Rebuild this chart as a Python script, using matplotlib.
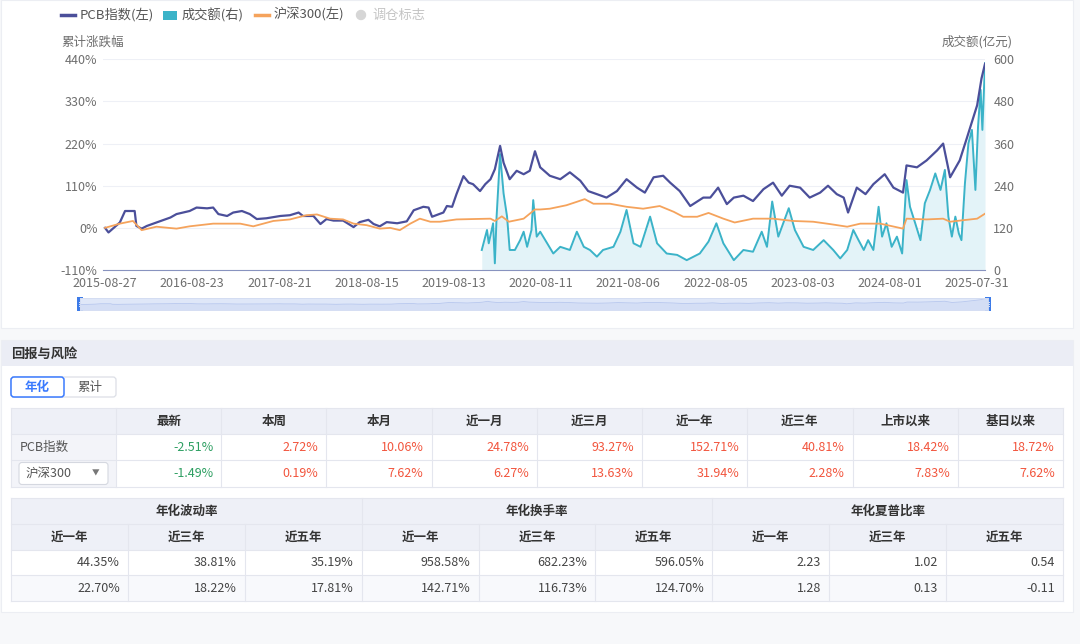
import matplotlib.pyplot as plt
import numpy as np
from matplotlib.patches import Rectangle, FancyBboxPatch, Circle
from matplotlib.lines import Line2D
from matplotlib.ticker import FuncFormatter

plt.rcParams['font.family'] = ['Noto Sans CJK SC', 'DejaVu Sans']

#### data (x = years since 2015-08-27, one tick label per year)
xlabels = ['2015-08-27', '2016-08-23', '2017-08-21', '2018-08-15', '2019-08-13',
           '2020-08-11', '2021-08-06', '2022-08-05', '2023-08-03', '2024-08-01',
           '2025-07-31']

pcb_t = [0.00, 0.04, 0.10, 0.17, 0.23, 0.34, 0.36, 0.42, 0.48, 0.59,
         0.75, 0.82, 0.97, 1.05, 1.17, 1.24, 1.30, 1.40, 1.47, 1.57,
         1.66, 1.74, 1.85, 2.01, 2.12, 2.22, 2.27, 2.39, 2.47, 2.54,
         2.62, 2.73, 2.85, 2.92, 3.02, 3.08, 3.15, 3.23, 3.35, 3.46,
         3.54, 3.65, 3.71, 3.75, 3.82, 3.88, 3.92, 3.98, 4.03, 4.11,
         4.17, 4.22, 4.30, 4.36, 4.42, 4.47, 4.53, 4.57, 4.64, 4.72,
         4.80, 4.87, 4.93, 4.99, 5.10, 5.22, 5.33, 5.45, 5.54, 5.64,
         5.75, 5.87, 5.98, 6.10, 6.19, 6.29, 6.40, 6.48, 6.59, 6.71,
         6.86, 6.94, 7.03, 7.13, 7.21, 7.32, 7.43, 7.55, 7.66, 7.76,
         7.85, 7.97, 8.08, 8.20, 8.29, 8.39, 8.47, 8.52, 8.62, 8.72,
         8.81, 8.94, 9.04, 9.15, 9.19, 9.31, 9.42, 9.54, 9.61, 9.69,
         9.80, 9.88, 10.00, 10.05, 10.09]
pcb_v = [0, -12, 0, 14, 44, 44, 5, -2, 5, 14,
         27, 36, 44, 53, 51, 53, 36, 31, 40, 44,
         36, 23, 25, 31, 33, 40, 31, 31, 10, 23,
         19, 19, 2, 15, 21, 10, 4, 15, 12, 17,
         46, 55, 53, 29, 35, 40, 57, 55, 88, 135,
         118, 114, 96, 114, 127, 153, 214, 170, 127, 149,
         140, 149, 200, 158, 136, 127, 145, 123, 96, 88,
         79, 96, 127, 105, 92, 132, 136, 118, 96, 57,
         79, 79, 105, 62, 79, 84, 70, 101, 118, 84,
         110, 105, 79, 92, 110, 88, 79, 40, 105, 88,
         114, 140, 105, 92, 163, 158, 176, 202, 220, 132,
         176, 233, 320, 390, 428]

hs_t = [0.00, 0.17, 0.32, 0.42, 0.59, 0.82, 0.97, 1.24, 1.55, 1.70,
        1.93, 2.12, 2.31, 2.43, 2.58, 2.73, 2.85, 3.00, 3.15, 3.27,
        3.38, 3.50, 3.61, 3.73, 3.84, 4.03, 4.22, 4.42, 4.47, 4.55,
        4.63, 4.80, 4.93, 4.99, 5.10, 5.29, 5.41, 5.50, 5.60, 5.79,
        5.98, 6.17, 6.36, 6.52, 6.63, 6.79, 6.92, 7.09, 7.22, 7.43,
        7.66, 7.89, 8.12, 8.31, 8.51, 8.66, 8.89, 9.15, 9.19, 9.42,
        9.61, 9.69, 9.84, 10.00, 10.09]
hs_v = [0, 11, 18, -6, 3, -2, 4, 11, 11, 4,
        18, 22, 33, 35, 24, 22, 11, 7, -2, 0,
        -6, 11, 24, 16, 16, 22, 23, 24, 18, 30,
        16, 24, 48, 48, 50, 59, 68, 75, 63, 63,
        55, 50, 57, 42, 29, 29, 39, 24, 14, 24,
        24, 18, 16, 10, 3, 11, 11, -2, 24, 22,
        24, 16, 20, 24, 37]

vol_t = [4.32, 4.38, 4.40, 4.45, 4.47, 4.49, 4.53, 4.57, 4.61, 4.64,
         4.70, 4.76, 4.80, 4.84, 4.89, 4.91, 4.95, 4.99, 5.07, 5.14,
         5.22, 5.33, 5.41, 5.49, 5.56, 5.64, 5.71, 5.83, 5.91, 5.98,
         6.06, 6.14, 6.25, 6.33, 6.44, 6.56, 6.67, 6.82, 6.92, 7.01,
         7.09, 7.21, 7.32, 7.43, 7.53, 7.59, 7.65, 7.72, 7.84, 7.91,
         8.01, 8.12, 8.24, 8.35, 8.43, 8.51, 8.58, 8.64, 8.70, 8.75,
         8.81, 8.87, 8.91, 8.96, 9.02, 9.08, 9.14, 9.19, 9.23, 9.29,
         9.35, 9.40, 9.46, 9.52, 9.58, 9.63, 9.67, 9.71, 9.75, 9.79,
         9.82, 9.86, 9.90, 9.94, 9.98, 10.01, 10.04, 10.06, 10.09]
vol_v = [57, 114, 76, 133, 19, 152, 330, 218, 152, 57,
         57, 85, 109, 66, 114, 199, 95, 109, 76, 47,
         66, 57, 109, 66, 57, 38, 57, 66, 109, 171,
         76, 66, 152, 76, 47, 43, 28, 47, 81, 133,
         76, 28, 57, 52, 109, 66, 195, 95, 176, 114,
         66, 57, 85, 57, 33, 57, 114, 85, 57, 85,
         57, 180, 95, 133, 66, 95, 47, 256, 180, 133,
         85, 190, 228, 275, 228, 285, 152, 95, 152, 104,
         85, 247, 361, 399, 228, 408, 513, 399, 589]

tab1_cols = ['最新', '本周', '本月', '近一月', '近三月', '近一年', '近三年', '上市以来', '基日以来']
tab1_pcb = [-2.51, 2.72, 10.06, 24.78, 93.27, 152.71, 40.81, 18.42, 18.72]
tab1_hs = [-1.49, 0.19, 7.62, 6.27, 13.63, 31.94, 2.28, 7.83, 7.62]

tab2_groups = ['年化波动率', '年化换手率', '年化夏普比率']
tab2_sub = ['近一年', '近三年', '近五年']
tab2_r1 = ['44.35%', '38.81%', '35.19%', '958.58%', '682.23%', '596.05%', '2.23', '1.02', '0.54']
tab2_r2 = ['22.70%', '18.22%', '17.81%', '142.71%', '116.73%', '124.70%', '1.28', '0.13', '-0.11']

C_PCB = '#4b4f9a'
C_VOL = '#3bb3c8'
C_HS = '#f5a35c'
C_GRAY = '#6e6e6e'
C_LINE = '#e4e6ee'
C_HEAD = '#eef0f7'

W, H = 1080, 644
fig = plt.figure(figsize=(10.8, 6.44), dpi=100)
fig.patch.set_facecolor('#f7f8fa')

bg = fig.add_axes([0, 0, 1, 1], zorder=0)
bg.set_xlim(0, W)
bg.set_ylim(H, 0)
bg.axis('off')


def axrect(x0, y0, x1, y1):
    return [x0 / W, 1 - y1 / H, (x1 - x0) / W, (y1 - y0) / H]


def box(x0, y0, x1, y1, fc, ec='none', lw=0, z=1):
    bg.add_patch(Rectangle((x0, y0), x1 - x0, y1 - y0, facecolor=fc,
                           edgecolor=ec, linewidth=lw, zorder=z))


def hline(x0, x1, y, c=C_LINE):
    bg.add_line(Line2D([x0, x1], [y, y], color=c, lw=0.8, zorder=3))


def vline(x, y0, y1, c=C_LINE):
    bg.add_line(Line2D([x, x], [y0, y1], color=c, lw=0.8, zorder=3))


#### cards
box(1, 0, 1073, 328, 'white', ec='#eceef3', lw=0.8)
box(1, 340, 1073, 612, 'white', ec='#eceef3', lw=0.8)
box(1.5, 340.5, 1072.5, 366, '#ebedf5', z=2)
bg.text(11, 354, '回报与风险', fontsize=9.5, fontweight='bold', color='#333333',
        va='center', ha='left', zorder=4)

#### legend
bg.add_line(Line2D([61, 75], [15, 15], color=C_PCB, lw=2.5, zorder=4))
bg.text(80, 15, 'PCB指数(左)', fontsize=9.5, color='#555555', va='center', zorder=4)
box(163, 11, 177, 19.5, C_VOL, z=4)
bg.text(182, 15, '成交额(右)', fontsize=9.5, color='#555555', va='center', zorder=4)
bg.add_line(Line2D([255, 269], [15, 15], color=C_HS, lw=2.5, zorder=4))
bg.text(274, 15, '沪深300(左)', fontsize=9.5, color='#555555', va='center', zorder=4)
bg.add_patch(Circle((361, 15), 4.5, color='#d6d6d6', zorder=4))
bg.text(372, 15, '调仓标志', fontsize=9.5, color='#c4c4c4', va='center', zorder=4)

bg.text(61, 42, '累计涨跌幅', fontsize=9, color=C_GRAY, va='center', ha='left', zorder=4)
bg.text(1013, 42, '成交额(亿元)', fontsize=9, color=C_GRAY, va='center', ha='right', zorder=4)

#### main chart
ax = fig.add_axes(axrect(103, 59.3, 985, 270))
ax2 = ax.twinx()
ax.set_zorder(ax2.get_zorder() + 1)
ax.patch.set_visible(False)
ax2.patch.set_visible(False)

ax2.fill_between(vol_t, 0, vol_v, color='#e3f3f8', lw=0)
ax2.plot(vol_t, vol_v, color=C_VOL, lw=1.4)
ax.plot(pcb_t, pcb_v, color=C_PCB, lw=1.6)
ax.plot(hs_t, hs_v, color=C_HS, lw=1.3)

ax.set_xlim(-0.023, 10.09)
ax.set_ylim(-110, 440)
ax.set_yticks(np.arange(-110, 441, 110))
ax.yaxis.set_major_formatter(FuncFormatter(lambda v, p: f'{v:.0f}%'))
ax.set_xticks(range(len(xlabels)))
ax.set_xticklabels(xlabels)
ax2.set_ylim(0, 600)
ax2.set_yticks(np.arange(0, 601, 120))
ax2.grid(axis='y', color='#eef0f6', lw=0.8)
ax2.set_axisbelow(True)

for a in (ax, ax2):
    for s in a.spines.values():
        s.set_visible(False)
ax.spines['bottom'].set_visible(True)
ax.spines['bottom'].set_color('#8893bf')
ax.tick_params(axis='both', length=0, labelsize=9, labelcolor=C_GRAY)
ax.tick_params(axis='y', pad=4)
ax.tick_params(axis='x', pad=5)
ax2.tick_params(axis='y', length=0, labelsize=9, labelcolor=C_GRAY, pad=6)

#### data zoom slider
sl = fig.add_axes(axrect(80, 298, 988, 310), zorder=2)
sl.set_facecolor('#dfe7f8')
sl.fill_between(pcb_t, -400, pcb_v, color='#d4def5', lw=0)
sl.plot(pcb_t, pcb_v, color='#b7c7ee', lw=0.6)
sl.set_xlim(0, 10.09)
sl.set_ylim(-400, 450)
sl.set_xticks([])
sl.set_yticks([])
for s in sl.spines.values():
    s.set_color('#d3dcf2')
    s.set_linewidth(0.6)
for hx in (77, 985):
    box(hx, 297, hx + 6, 311, '#3d7be8', z=5)
    for dy in (-2, 0, 2):
        bg.add_line(Line2D([hx + 1.8, hx + 4.2], [304 + dy, 304 + dy], color='white', lw=0.6, zorder=6))

#### toggle buttons
bg.add_patch(FancyBboxPatch((11, 377), 105, 20, boxstyle='round,pad=0,rounding_size=3',
                            facecolor='white', edgecolor='#dcdfe6', lw=0.9, zorder=3))
bg.add_patch(FancyBboxPatch((11, 377), 53, 20, boxstyle='round,pad=0,rounding_size=3',
                            facecolor='white', edgecolor='#3a7afe', lw=1.1, zorder=4))
bg.text(37.5, 387, '年化', fontsize=9, fontweight='bold', color='#3a7afe', ha='center', va='center', zorder=5)
bg.text(90, 387, '累计', fontsize=9, color='#555555', ha='center', va='center', zorder=5)

#### table 1
t1_y = [408, 434, 460, 487]
t1_x = [11] + list(np.linspace(116, 1063, 10))
box(11, t1_y[0], 1063, t1_y[1], C_HEAD, z=2)
box(11, t1_y[1], 116, t1_y[3], '#f3f4f9', z=2)
for y in t1_y:
    hline(11, 1063, y)
for x in t1_x:
    vline(x, t1_y[0], t1_y[3])
for i, c in enumerate(tab1_cols):
    bg.text((t1_x[i + 1] + t1_x[i + 2]) / 2, (t1_y[0] + t1_y[1]) / 2, c, fontsize=9,
            fontweight='bold', color='#333333', ha='center', va='center', zorder=4)
bg.text(20, (t1_y[1] + t1_y[2]) / 2, 'PCB指数', fontsize=9, color='#555555', va='center', zorder=4)
bg.add_patch(FancyBboxPatch((19, 462.5), 89, 22, boxstyle='round,pad=0,rounding_size=3',
                            facecolor='white', edgecolor='#d5d8e0', lw=0.8, zorder=4))
bg.text(26, 473.5, '沪深300', fontsize=9, color='#555555', va='center', zorder=5)
bg.text(96, 473.5, '▼', fontsize=5.5, color='#777777', ha='center', va='center', zorder=5)
for r, vals in enumerate([tab1_pcb, tab1_hs]):
    yc = (t1_y[r + 1] + t1_y[r + 2]) / 2
    for i, v in enumerate(vals):
        col = '#2e9f62' if v < 0 else '#f2553d'
        bg.text(t1_x[i + 2] - 8, yc, f'{v:.2f}%', fontsize=9, color=col,
                ha='right', va='center', zorder=4)

#### table 2
t2_y = [498, 524, 550, 575, 601]
t2_x = list(np.linspace(11, 1063, 10))
box(11, t2_y[0], 1063, t2_y[2], C_HEAD, z=2)
box(11, t2_y[3], 1063, t2_y[4], '#f8f9fc', z=2)
for y in t2_y:
    hline(11, 1063, y)
for j, x in enumerate(t2_x):
    y0 = t2_y[0] if j % 3 == 0 else t2_y[1]
    vline(x, y0, t2_y[4])
for g, name in enumerate(tab2_groups):
    bg.text((t2_x[3 * g] + t2_x[3 * g + 3]) / 2, (t2_y[0] + t2_y[1]) / 2, name, fontsize=9,
            fontweight='bold', color='#333333', ha='center', va='center', zorder=4)
for i in range(9):
    bg.text((t2_x[i] + t2_x[i + 1]) / 2, (t2_y[1] + t2_y[2]) / 2, tab2_sub[i % 3], fontsize=9,
            fontweight='bold', color='#333333', ha='center', va='center', zorder=4)
for r, vals in enumerate([tab2_r1, tab2_r2]):
    yc = (t2_y[r + 2] + t2_y[r + 3]) / 2
    for i, v in enumerate(vals):
        bg.text(t2_x[i + 1] - 8, yc, v, fontsize=9, color='#444444',
                ha='right', va='center', zorder=4)

fig.savefig('out.png', dpi=100, facecolor=fig.get_facecolor())
